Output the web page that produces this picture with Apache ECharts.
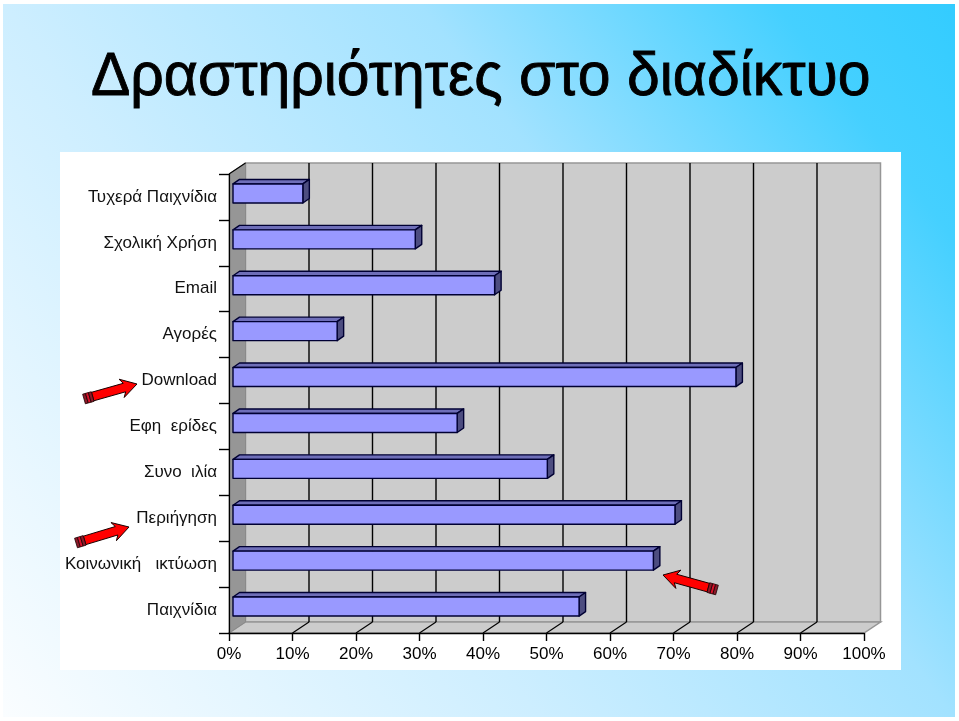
<!DOCTYPE html>
<html><head><meta charset="utf-8">
<style>html,body{margin:0;padding:0;background:#fff}#c{width:959px;height:721px}</style>
<script src="https://cdn.jsdelivr.net/npm/echarts@6/dist/echarts.min.js"></script>
</head><body><div id="c"></div>
<script>
const titleText = 'Δραστηριότητες στο διαδίκτυο';
const categories = ['Τυχερά Παιχνίδια','Σχολική Χρήση','Email','Αγορές','Download','Εφη  ερίδες','Συνο  ιλία','Περιήγηση','Κοινωνική   ικτύωση','Παιχνίδια'];
const values = [11,28.7,41.2,16.4,79.2,35.3,49.5,69.6,66.2,54.5];
const valueTicks = [0,10,20,30,40,50,60,70,80,90,100];

const DX = 16.5, DY = -11;            // depth of the 3D box
const font = '"Liberation Sans", Arial, sans-serif';

function wallItem(params, api) {
  const n = categories.length;
  const band = api.size([0, 1])[1];
  const yTop = api.coord([0, 0])[1] - band / 2;
  const yBot = api.coord([0, n - 1])[1] + band / 2;
  const xL = api.coord([0, 0])[0], xR = api.coord([100, 0])[0];
  const bl = [xL, yBot], br = [xR, yBot], tl = [xL, yTop];
  const off = q => [q[0] + DX, q[1] + DY];
  const kids = [];
  const poly = (pts, fill, stroke, w) => ({type:'polygon', shape:{points:pts}, style:{fill, stroke, lineWidth:w||1}});
  const line = (a, b, stroke, w) => ({type:'line', shape:{x1:a[0],y1:a[1],x2:b[0],y2:b[1]}, style:{stroke, lineWidth:w||1.4}});
  kids.push(poly([off(tl), off([xR, yTop]), off(br), off(bl)], '#CCCCCC', '#969696', 1.5));
  kids.push(poly([bl, br, off(br), off(bl)], '#CCCCCC', '#969696', 1.5));
  kids.push(poly([bl, off(bl), off(tl), tl], '#969696', '#8a8a8a', 1));
  valueTicks.forEach(v => {
    const x = api.coord([v, 0])[0];
    if (v > 0 && v < 100) {
      kids.push(line(off([x, yBot]), off([x, yTop]), '#000', 1.4));
      kids.push(line([x, yBot], off([x, yBot]), '#000', 1.2));
    }
  });
  kids.push(line(tl, off(tl), '#000', 1.2));
  return {type:'group', children:kids};
}

function barItem(params, api) {
  const cat = api.value(0), val = api.value(1);
  const band = api.size([0, 1])[1];
  const h = band * 0.415, dx = 6.5, dy = -4.5;
  const a = api.coord([0, cat]), b = api.coord([val, cat]);
  const x0 = a[0] + 4, x1 = b[0] + 4;
  const y0 = a[1] - 3.5 - h / 2, y1 = y0 + h;
  const st = {stroke:'#000033', lineWidth:1.4, lineJoin:'round'};
  const poly = (pts, fill) => ({type:'polygon', shape:{points:pts}, style:Object.assign({fill}, st)});
  return {type:'group', children:[
    poly([[x0,y0],[x1,y0],[x1+dx,y0+dy],[x0+dx,y0+dy]], '#6E6EB8'),
    poly([[x1,y0],[x1+dx,y0+dy],[x1+dx,y1+dy],[x1,y1]], '#4D4D80'),
    poly([[x0,y0],[x1,y0],[x1,y1],[x0,y1]], '#9999FF')
  ]};
}

function arrow(tail, tip) {
  const len = Math.hypot(tip[0]-tail[0], tip[1]-tail[1]);
  const ang = Math.atan2(tip[1]-tail[1], tip[0]-tail[0]);
  const T = (u, v) => [tail[0] + u*Math.cos(ang) - v*Math.sin(ang), tail[1] + u*Math.sin(ang) + v*Math.cos(ang)];
  const hw = 4.4, hh = 9.5, hl = 13;
  const s = {stroke:'#1a0000', lineWidth:1};
  const out = [
    {type:'polygon', z:100, shape:{points:[T(9,-hw),T(len-hl,-hw),T(len-hl-3,-hh),T(len,0),T(len-hl-3,hh),T(len-hl,hw),T(9,hw)]}, style:Object.assign({fill:'#FF0000'}, s)}
  ];
  [[0,3,'#8C1A2A'],[3,6,'#D8102A'],[6,9,'#8C1A2A']].forEach(r => out.push({
    type:'polygon', z:100, shape:{points:[T(r[0],-hw-0.6),T(r[1],-hw-0.6),T(r[1],hw+0.6),T(r[0],hw+0.6)]}, style:{fill:r[2], stroke:'#1a0000', lineWidth:0.8}
  }));
  return out;
}

const chart = echarts.init(document.getElementById('c'), null, {renderer:'canvas'});
chart.setOption({
  animation:false,
  backgroundColor:'#ffffff',
  grid:{left:229, right:95, top:174, bottom:88, containLabel:false},
  xAxis:{type:'value', min:0, max:100, interval:10, z:5,
    axisLine:{show:true, lineStyle:{color:'#000', width:1.4}},
    axisTick:{show:true, length:8, lineStyle:{color:'#000', width:1.4}},
    axisLabel:{formatter:'{value}%', fontFamily:font, fontSize:17, color:'#000', margin:13},
    splitLine:{show:false}},
  yAxis:{type:'category', inverse:true, data:categories, z:5,
    axisLine:{show:true, lineStyle:{color:'#000', width:1.2}},
    axisTick:{show:true, length:10, alignWithLabel:false, lineStyle:{color:'#000', width:1.4}},
    axisLabel:{fontFamily:font, fontSize:17, color:'#111', margin:12, padding:[0,0,10,0], interval:0},
    splitLine:{show:false}},
  series:[
    {type:'custom', name:'walls', z:1, silent:true, clip:false, renderItem:wallItem, data:[[0,0]], encode:{x:0,y:1}},
    {type:'custom', name:'bars', z:3, clip:false, renderItem:barItem,
     data:values.map((v,i)=>[i,v]), encode:{x:1,y:0}}
  ],
  graphic:{elements:[
    {type:'rect', z:-10, shape:{x:3,y:4,width:952,height:713},
     style:{fill:new echarts.graphic.LinearGradient(1,0,0,1,[
       {offset:0,color:'#33CCFF'},{offset:0.12,color:'#45D0FF'},{offset:0.36,color:'#A2E2FF'},{offset:0.64,color:'#CDEEFF'},{offset:1,color:'#FAFDFF'}])}},
    {type:'rect', z:-9, shape:{x:60,y:152,width:841,height:518}, style:{fill:'#FFFFFF'}},
    {type:'text', z:50, x:91, y:108.5, scaleX:0.95, scaleY:1,
     style:{text:titleText, x:0, y:0, textAlign:'left', textVerticalAlign:'bottom', verticalAlign:'alphabetic',
            font:'62px "Liberation Sans"', fill:'#000', stroke:'#000', lineWidth:0.9}},
    ...arrow([84,399],[137,384]),
    ...arrow([76,543],[129,527]),
    ...arrow([717,590],[663,575])
  ]}
});
</script></body></html>
